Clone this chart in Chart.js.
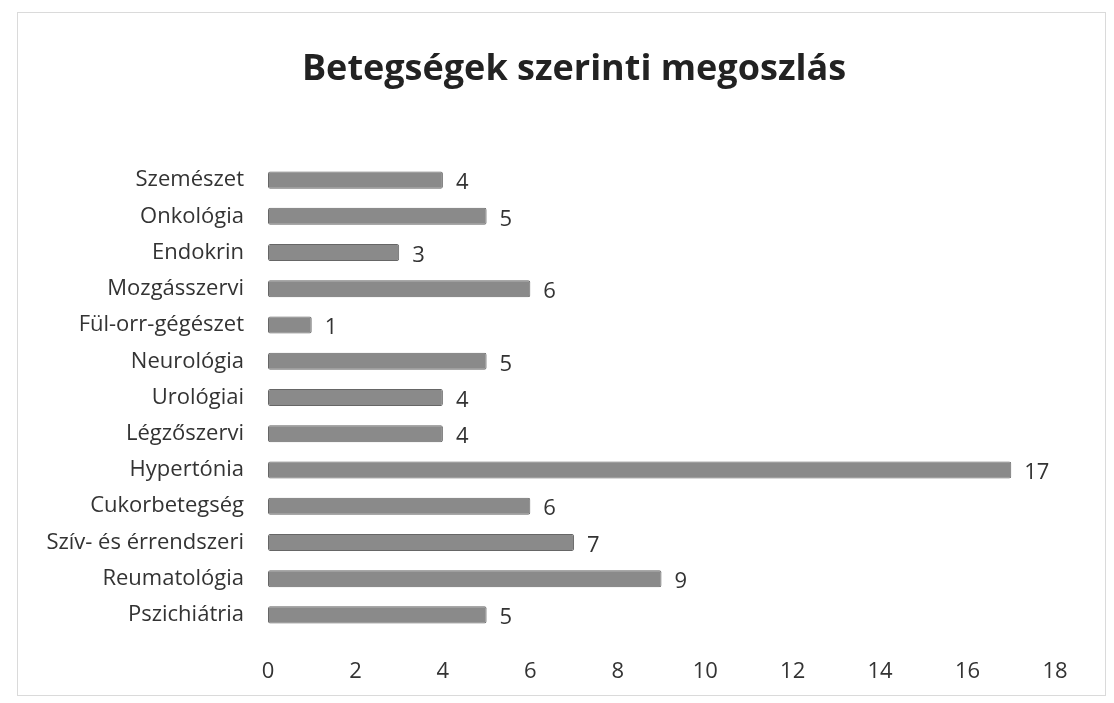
<!DOCTYPE html>
<html>
<head>
<meta charset="utf-8">
<script src="https://cdn.jsdelivr.net/npm/chart.js@4.4.1/dist/chart.umd.min.js"></script>
<style>
html,body{margin:0;padding:0;background:#fff;}
#wrap{position:relative;width:1114px;height:703px;}
</style>
</head>
<body>
<div id="wrap"><canvas id="c" width="1114" height="703"></canvas></div>
<script>
const categories = ["Szemészet","Onkológia","Endokrin","Mozgásszervi","Fül-orr-gégészet","Neurológia","Urológiai","Légzőszervi","Hypertónia","Cukorbetegség","Szív- és érrendszeri","Reumatológia","Pszichiátria"];
const values = [4,5,3,6,1,5,4,4,17,6,7,9,5];
const titleText = "Betegségek szerinti megoszlás";
const xMin = 0, xMax = 18, xStep = 2;

const FONT = "'Open Sans', 'DejaVu Sans', sans-serif";
const TEXT = "#333333";

const frame = {
  id: 'frame',
  beforeDraw(chart) {
    const ctx = chart.ctx;
    ctx.save();
    ctx.fillStyle = '#fff';
    ctx.fillRect(0, 0, chart.width, chart.height);
    ctx.strokeStyle = '#dadada';
    ctx.lineWidth = 1;
    ctx.strokeRect(17.5, 12.5, 1088, 683);
    ctx.restore();
  }
};

const titleDraw = {
  id: 'titleDraw',
  afterDraw(chart) {
    const ctx = chart.ctx;
    ctx.save();
    ctx.fillStyle = '#222';
    ctx.font = "bold 36px " + FONT;
    ctx.textAlign = 'center';
    ctx.textBaseline = 'middle';
    ctx.fillText(titleText, 574, 70);
    ctx.restore();
  }
};

const dataLabels = {
  id: 'dataLabels',
  afterDatasetsDraw(chart) {
    const ctx = chart.ctx;
    const meta = chart.getDatasetMeta(0);
    ctx.save();
    ctx.fillStyle = TEXT;
    ctx.font = "22px " + FONT;
    ctx.textAlign = 'left';
    ctx.textBaseline = 'middle';
    meta.data.forEach((bar, i) => {
      ctx.fillText(String(values[i]), bar.x + 13, bar.y + 3);
    });
    ctx.restore();
  }
};

new Chart(document.getElementById('c'), {
  type: 'bar',
  data: {
    labels: categories,
    datasets: [{
      data: values,
      backgroundColor: '#8a8a8a',
      borderColor: '#666666',
      borderWidth: 1,
      borderRadius: 2,
      borderSkipped: false,
      barPercentage: 0.47,
      categoryPercentage: 1.0
    }]
  },
  options: {
    indexAxis: 'y',
    responsive: false,
    animation: false,
    layout: { padding: { top: 162, left: 18, right: 59, bottom: 0 } },
    plugins: {
      legend: { display: false },
      tooltip: { enabled: false },
      title: { display: false }
    },
    scales: {
      x: {
        min: xMin, max: xMax,
        grid: { display: false },
        border: { display: false },
        afterFit(scale) { scale.height = 70; },
        ticks: { stepSize: xStep, color: TEXT, font: { family: FONT, size: 22 }, padding: 18, maxRotation: 0 }
      },
      y: {
        grid: { display: false },
        border: { display: false },
        afterFit(scale) { scale.width = 250; },
        ticks: { color: TEXT, font: { family: FONT, size: 22 }, padding: 16 }
      }
    }
  },
  plugins: [frame, dataLabels, titleDraw]
});
</script>
</body>
</html>
